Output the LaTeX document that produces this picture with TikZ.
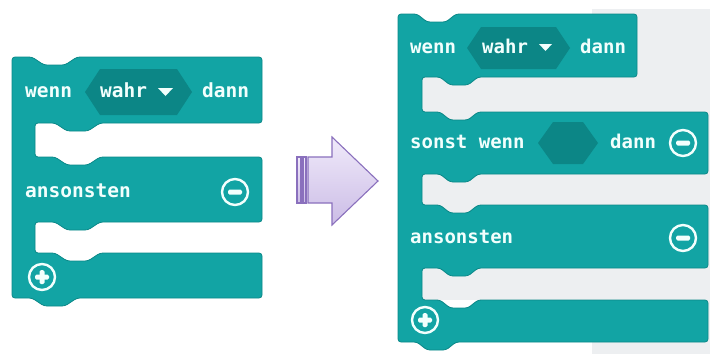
\documentclass[tikz,border=0pt]{standalone}
\usepackage{fontspec}
\newfontfamily\blockfont{DejaVu Sans Mono}
\definecolor{blockteal}{HTML}{12A4A4}
\definecolor{blockedge}{HTML}{0B8888}
\definecolor{hexteal}{HTML}{0C8686}
\definecolor{labelwhite}{HTML}{F2FFFD}
\definecolor{workspace}{HTML}{EDEFF1}
\definecolor{arrowedge}{HTML}{8A70BD}
\definecolor{arrowtop}{HTML}{F0EAFA}
\definecolor{arrowbot}{HTML}{CBBCE6}
\tikzset{
  blk/.style={fill=blockteal, draw=blockedge, line width=0.8pt, rounded corners=3pt},
  hexfield/.style={fill=hexteal},
  lblL/.style={text=labelwhite, inner sep=0pt, anchor=base west,
    font=\blockfont\bfseries\fontsize{19.5}{20}\selectfont},
  lblR/.style={text=labelwhite, inner sep=0pt, anchor=base west,
    font=\blockfont\bfseries\fontsize{19}{20}\selectfont},
  ring/.style={draw=labelwhite, line width=2.4pt, circle, minimum size=26pt, inner sep=0pt},
  bar/.style={fill=labelwhite, rounded corners=1.5pt},
  arrowpart/.style={draw=arrowedge, line width=1.1pt, top color=arrowtop, bottom color=arrowbot},
}
\begin{document}
\begin{tikzpicture}[x=1pt, y=-1pt]
\useasboundingbox (0,0) rectangle (710,354);
\fill[white] (0,0) rectangle (710,354);

% ---------- left block: wenn / ansonsten ----------
\draw[blk] (12,57) -- (32,57) -- (44,65) -- (65,65) -- (77,57) -- (262,57)
  -- (262,123) -- (100,123) -- (88,131) -- (67,131) -- (55,123) -- (35,123)
  -- (35,157) -- (55,157) -- (67,165) -- (88,165) -- (100,157) -- (262,157)
  -- (262,222) -- (100,222) -- (88,230) -- (67,230) -- (55,222) -- (35,222)
  -- (35,253) -- (55,253) -- (67,261) -- (88,261) -- (100,253) -- (262,253)
  -- (262,298) -- (77,298) -- (65,306) -- (44,306) -- (32,298) -- (12,298) -- cycle;
\fill[hexfield] (85,92) -- (100,69) -- (177,69) -- (192,92) -- (177,115) -- (100,115) -- cycle;
\node[lblL] (lwenn) at (25,97.5) {wenn};
\node[lblL] (lwahr) at (100,97.5) {wahr};
\fill[labelwhite] (158,88) -- (173,88) -- (165.5,96) -- cycle;
\node[lblL] (ldann) at (202,97.5) {dann};
\node[lblL] (lelse) at (25,197.5) {ansonsten};
\node[ring] (lminus) at (235,192) {};
\fill[bar] (228,189.5) rectangle (242,194.5);
\node[ring] (lplus) at (42,277) {};
\fill[bar] (35,274.5) rectangle (49,279.5);
\fill[bar] (39.5,270) rectangle (44.5,284);

% ---------- arrow ----------
\draw[arrowpart] (297,157) rectangle (301,203);
\draw[arrowpart] (303,157) rectangle (306,203);
\draw[arrowpart, line join=miter] (308,157) -- (332,157) -- (332,137) -- (378,181)
  -- (332,225) -- (332,203) -- (308,203) -- cycle;

% ---------- right block: wenn / sonst wenn / ansonsten ----------
\fill[workspace] (592,9) rectangle (710,354);
\fill[workspace] (415,77) rectangle (592,300);
\draw[blk] (398,14) -- (417,14) -- (427,22) -- (446,22) -- (456,14) -- (637,14)
  -- (637,77) -- (478,77) -- (468,85) -- (450,85) -- (440,77) -- (422,77)
  -- (422,112) -- (440,112) -- (450,120) -- (468,120) -- (478,112) -- (708,112)
  -- (708,174) -- (478,174) -- (468,182) -- (450,182) -- (440,174) -- (422,174)
  -- (422,205) -- (440,205) -- (450,213) -- (468,213) -- (478,205) -- (708,205)
  -- (708,268) -- (478,268) -- (468,276) -- (450,276) -- (440,268) -- (422,268)
  -- (422,300) -- (440,300) -- (450,308) -- (468,308) -- (478,300) -- (708,300)
  -- (708,342) -- (456,342) -- (446,350) -- (427,350) -- (417,342) -- (398,342) -- cycle;
\fill[hexfield] (467,48) -- (481,27) -- (556,27) -- (570,48) -- (556,69) -- (481,69) -- cycle;
\node[lblR] (rwenn) at (410,53.5) {wenn};
\node[lblR] (rwahr) at (482,53.5) {wahr};
\fill[labelwhite] (539,44) -- (552,44) -- (545.5,51) -- cycle;
\node[lblR] (rdann) at (580,53.5) {dann};
\node[lblR] (relif) at (410,148.5) {sonst wenn};
\fill[hexfield] (538,143) -- (553,122) -- (583,122) -- (598,143) -- (583,164) -- (553,164) -- cycle;
\node[lblR] (rdann2) at (610,148.5) {dann};
\node[ring] (rminus1) at (683,143) {};
\fill[bar] (676,140.5) rectangle (690,145.5);
\node[lblR] (relse) at (410,243.5) {ansonsten};
\node[ring] (rminus2) at (683,238) {};
\fill[bar] (676,235.5) rectangle (690,240.5);
\node[ring] (rplus) at (425,320) {};
\fill[bar] (418,317.5) rectangle (432,322.5);
\fill[bar] (422.5,313) rectangle (427.5,327);
\end{tikzpicture}
\end{document}
